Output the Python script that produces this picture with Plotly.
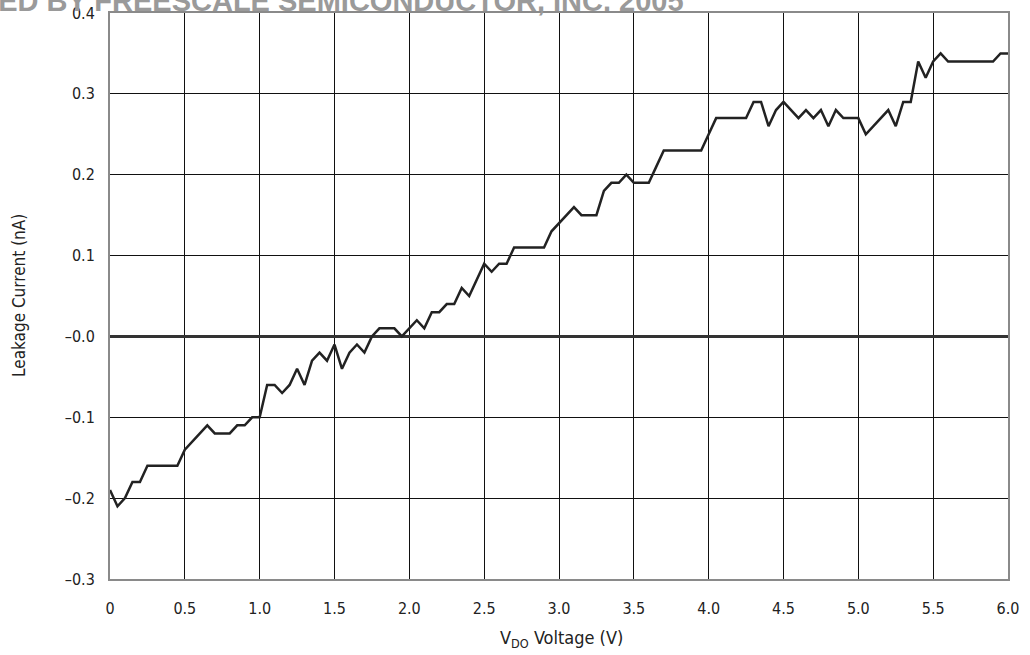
import plotly.graph_objects as go

voltage = [0.00, 0.05, 0.10, 0.15, 0.20, 0.25, 0.30, 0.35, 0.40, 0.45,
           0.50, 0.55, 0.60, 0.65, 0.70, 0.75, 0.80, 0.85, 0.90, 0.95,
           1.00, 1.05, 1.10, 1.15, 1.20, 1.25, 1.30, 1.35, 1.40, 1.45,
           1.50, 1.55, 1.60, 1.65, 1.70, 1.75, 1.80, 1.85, 1.90, 1.95,
           2.00, 2.05, 2.10, 2.15, 2.20, 2.25, 2.30, 2.35, 2.40, 2.45,
           2.50, 2.55, 2.60, 2.65, 2.70, 2.75, 2.80, 2.85, 2.90, 2.95,
           3.00, 3.05, 3.10, 3.15, 3.20, 3.25, 3.30, 3.35, 3.40, 3.45,
           3.50, 3.55, 3.60, 3.65, 3.70, 3.75, 3.80, 3.85, 3.90, 3.95,
           4.00, 4.05, 4.10, 4.15, 4.20, 4.25, 4.30, 4.35, 4.40, 4.45,
           4.50, 4.55, 4.60, 4.65, 4.70, 4.75, 4.80, 4.85, 4.90, 4.95,
           5.00, 5.05, 5.10, 5.15, 5.20, 5.25, 5.30, 5.35, 5.40, 5.45,
           5.50, 5.55, 5.60, 5.65, 5.70, 5.75, 5.80, 5.85, 5.90, 5.95,
           6.00]

leakage_nA = [-0.19, -0.21, -0.20, -0.18, -0.18, -0.16, -0.16, -0.16, -0.16, -0.16,
              -0.14, -0.13, -0.12, -0.11, -0.12, -0.12, -0.12, -0.11, -0.11, -0.10,
              -0.10, -0.06, -0.06, -0.07, -0.06, -0.04, -0.06, -0.03, -0.02, -0.03,
              -0.01, -0.04, -0.02, -0.01, -0.02, 0.00, 0.01, 0.01, 0.01, 0.00,
              0.01, 0.02, 0.01, 0.03, 0.03, 0.04, 0.04, 0.06, 0.05, 0.07,
              0.09, 0.08, 0.09, 0.09, 0.11, 0.11, 0.11, 0.11, 0.11, 0.13,
              0.14, 0.15, 0.16, 0.15, 0.15, 0.15, 0.18, 0.19, 0.19, 0.20,
              0.19, 0.19, 0.19, 0.21, 0.23, 0.23, 0.23, 0.23, 0.23, 0.23,
              0.25, 0.27, 0.27, 0.27, 0.27, 0.27, 0.29, 0.29, 0.26, 0.28,
              0.29, 0.28, 0.27, 0.28, 0.27, 0.28, 0.26, 0.28, 0.27, 0.27,
              0.27, 0.25, 0.26, 0.27, 0.28, 0.26, 0.29, 0.29, 0.34, 0.32,
              0.34, 0.35, 0.34, 0.34, 0.34, 0.34, 0.34, 0.34, 0.34, 0.35,
              0.35]

x_tickvals = [0, 0.5, 1.0, 1.5, 2.0, 2.5, 3.0, 3.5, 4.0, 4.5, 5.0, 5.5, 6.0]
x_ticktext = ["0", "0.5", "1.0", "1.5", "2.0", "2.5", "3.0", "3.5", "4.0", "4.5", "5.0", "5.5", "6.0"]
y_tickvals = [0.4, 0.3, 0.2, 0.1, 0.0, -0.1, -0.2, -0.3]
y_ticktext = ["0.4", "0.3", "0.2", "0.1", "\u20130.0", "\u20130.1", "\u20130.2", "\u20130.3"]

FONT = "DejaVu Sans Condensed, Liberation Sans, Arial, sans-serif"
WFONT = "Liberation Sans, Arial, sans-serif"

fig = go.Figure()
fig.add_trace(go.Scatter(
    x=voltage, y=leakage_nA, mode="lines",
    line=dict(color="#222222", width=2.5),
    showlegend=False, hoverinfo="skip",
))

fig.update_layout(
    width=1030, height=655,
    margin=dict(l=110, r=22, t=13, b=76, autoexpand=False),
    paper_bgcolor="white", plot_bgcolor="white",
    font=dict(family=FONT, size=16, color="#222222"),
    xaxis=dict(
        range=[0, 6.0], tickvals=x_tickvals, ticktext=x_ticktext,
        showgrid=True, gridcolor="#111111", gridwidth=1,
        zeroline=False, showline=True, linecolor="#8a8a8a", linewidth=2,
        mirror=True, ticks="", ticklabelstandoff=14, automargin=False,
    ),
    yaxis=dict(
        range=[-0.3, 0.4], tickvals=y_tickvals, ticktext=y_ticktext,
        showgrid=True, gridcolor="#111111", gridwidth=1,
        zeroline=True, zerolinecolor="#333333", zerolinewidth=2.5,
        showline=True, linecolor="#8a8a8a", linewidth=2,
        mirror=True, ticks="", ticklabelstandoff=10, automargin=False,
    ),
    annotations=[
        dict(
            text="<b>ARCHIVED BY FREESCALE SEMICONDUCTOR, INC. 2005</b>",
            xref="paper", yref="paper", x=(686 - 110) / 898, y=1.0,
            xanchor="right", yanchor="bottom", yshift=-6,
            showarrow=False,
            font=dict(family=WFONT, size=29, color="#9a9a9a"),
        ),
        dict(
            text="V<sub>DO</sub> Voltage (V)",
            xref="paper", yref="paper", x=(561 - 110) / 898, y=0,
            xanchor="center", yanchor="middle", yshift=-60,
            showarrow=False, font=dict(size=18),
        ),
        dict(
            text="Leakage Current (nA)",
            xref="paper", yref="paper", x=0, y=0.5, xshift=-91,
            xanchor="center", yanchor="middle", textangle=-90,
            showarrow=False, font=dict(size=17),
        ),
    ],
)

fig.write_html(
    "out.html",
    config={"displayModeBar": False, "staticPlot": True},
    post_script="document.body.style.margin='0';document.body.style.overflow='hidden';",
)
